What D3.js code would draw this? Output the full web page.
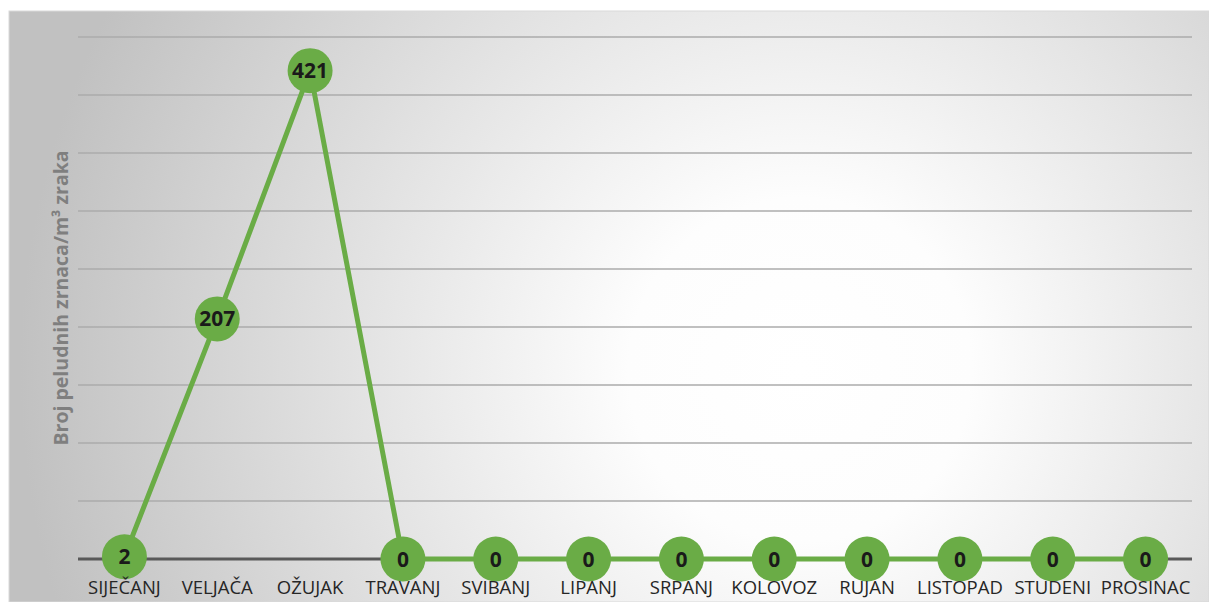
<!DOCTYPE html>
<html>
<head>
<meta charset="utf-8">
<script src="https://cdn.jsdelivr.net/npm/d3@7"></script>
<style>
  body { margin: 0; background: #fff; }
  svg { display: block; }
</style>
</head>
<body>
<svg id="chart"></svg>
<script>
//////////////// Daten ////////////////////
const mjeseci = ["SIJEČANJ", "VELJAČA", "OŽUJAK", "TRAVANJ", "SVIBANJ", "LIPANJ",
  "SRPANJ", "KOLOVOZ", "RUJAN", "LISTOPAD", "STUDENI", "PROSINAC"];
const vrijednosti = [2, 207, 421, 0, 0, 0, 0, 0, 0, 0, 0, 0];
const yTicks = [0, 50, 100, 150, 200, 250, 300, 350, 400, 450];
const yNaslov = "Broj peludnih zrnaca/m³ zraka";

//////////////// Konstanten ////////////////////
const W = 1209, H = 602;
const margin = {top: 37, right: 17, bottom: 43, left: 78},
  width = W - margin.left - margin.right,
  height = H - margin.top - margin.bottom;
const zelena = "#6aac46";

const svg = d3.select("#chart").attr("width", W).attr("height", H);

// pozadina s radijalnim gradijentom
const grad = svg.append("defs").append("radialGradient")
  .attr("id", "bg")
  .attr("gradientUnits", "userSpaceOnUse")
  .attr("cx", 800).attr("cy", 370).attr("r", 780);
grad.append("stop").attr("offset", "0").attr("stop-color", "#ffffff");
grad.append("stop").attr("offset", "0.22").attr("stop-color", "#fdfdfd");
grad.append("stop").attr("offset", "0.55").attr("stop-color", "#e4e4e4");
grad.append("stop").attr("offset", "1").attr("stop-color", "#c1c1c1");

svg.append("rect")
  .attr("x", 9).attr("y", 11)
  .attr("width", W - 9).attr("height", H - 11)
  .attr("fill", "url(#bg)")
  .attr("stroke", "#d9d9d9").attr("stroke-width", 1);

const g = svg.append("g")
  .attr("transform", "translate(" + margin.left + "," + margin.top + ")");

//////////////// Skale ////////////////////
const x = d3.scaleBand().domain(mjeseci).range([0, width]);
const y = d3.scaleLinear().domain([0, 450]).range([height, 0]);

// mreža
g.append("g").selectAll("line.grid")
  .data(yTicks.filter(d => d > 0))
  .enter().append("line")
  .attr("class", "grid")
  .attr("x1", 0).attr("x2", width)
  .attr("y1", d => y(d)).attr("y2", d => y(d))
  .attr("stroke", "#ababab").attr("stroke-width", 1.5);

// os x
g.append("line")
  .attr("x1", 0).attr("x2", width)
  .attr("y1", y(0)).attr("y2", y(0))
  .attr("stroke", "#595959").attr("stroke-width", 3);

// naslov osi y
svg.append("text")
  .attr("transform", "translate(68," + 298 + ") rotate(-90)")
  .attr("text-anchor", "middle")
  .attr("fill", "#7f7f7f")
  .style("font-family", "'Open Sans', sans-serif")
  .style("font-weight", "bold")
  .style("font-size", "19.5px")
  .text(yNaslov);

//////////////// Linija ////////////////////
const podaci = mjeseci.map((m, i) => ({mjesec: m, v: vrijednosti[i]}));
const cx = d => x(d.mjesec) + x.bandwidth() / 2;

g.append("path")
  .datum(podaci)
  .attr("fill", "none")
  .attr("stroke", zelena)
  .attr("stroke-width", 5)
  .attr("stroke-linejoin", "round")
  .attr("d", d3.line().x(cx).y(d => y(d.v)));

const tocke = g.selectAll("g.tocka")
  .data(podaci)
  .enter().append("g")
  .attr("class", "tocka")
  .attr("transform", d => "translate(" + cx(d) + "," + y(d.v) + ")");

tocke.append("circle")
  .attr("r", 22.5)
  .attr("fill", zelena);

tocke.append("text")
  .attr("text-anchor", "middle")
  .attr("dy", "0.36em")
  .attr("fill", "#1a1a1a")
  .style("font-family", "'Open Sans', sans-serif")
  .style("font-weight", "bold")
  .style("font-size", "21px")
  .text(d => d.v);

// oznake mjeseci (iznad krugova)
const xAxis = g.append("g")
  .attr("transform", "translate(0," + height + ")")
  .call(d3.axisBottom(x).tickSize(0).tickPadding(22));
xAxis.select(".domain").remove();
xAxis.selectAll("text")
  .attr("fill", "#262626")
  .style("font-family", "'Open Sans', sans-serif")
  .style("font-size", "18.5px");
</script>
</body>
</html>
